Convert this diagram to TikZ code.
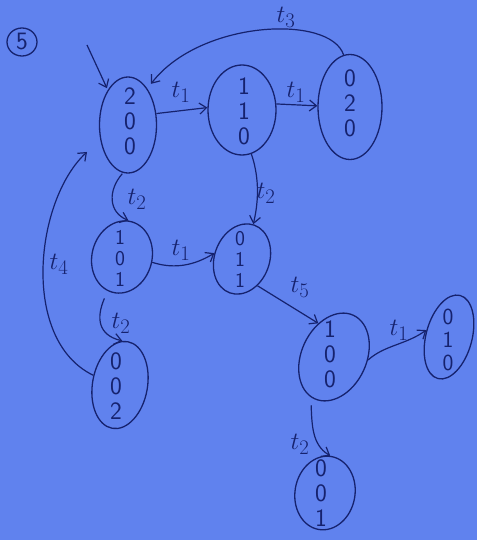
\documentclass[tikz,border=0pt]{standalone}
\usetikzlibrary{shapes.geometric,arrows.meta}
\definecolor{paper}{HTML}{6082EE}
\definecolor{ink}{HTML}{16226E}
\begin{document}
\begin{tikzpicture}[x=1pt,y=-1pt,
  state/.style={draw=ink, line width=1.3pt, ellipse, inner sep=0pt},
  digits/.style={text=ink, font=\sffamily\fontsize{25}{25}\selectfont, align=center, inner sep=0pt},
  lab/.style={text=ink, font=\fontsize{28}{28}\selectfont, inner sep=0pt},
  arc/.style={draw=ink, line width=1.2pt, -{Straight Barb[length=7pt,width=11pt]}}
]
\fill[paper] (0,0) rectangle (477,540);
\useasboundingbox (0,0) rectangle (477,540);

% states
\node[state, minimum width=30pt, minimum height=28pt] (five) at (22,42) {};
\node[digits] (fivet) at (22,42) {5};

\node[state, minimum width=57pt, minimum height=96pt] (A) at (128,125) {};
\node[digits] (At) at (130,121) {2\\0\\0};
\node[state, minimum width=68pt, minimum height=90pt] (B) at (242,110) {};
\node[digits] (Bt) at (244,111) {1\\1\\0};
\node[state, minimum width=64pt, minimum height=105pt] (C) at (350,107) {};
\node[digits] (Ct) at (350,103) {0\\2\\0};
\node[state, minimum width=60pt, minimum height=73pt, rotate=-15] (D) at (122,257) {};
\node[digits, font=\sffamily\fontsize{21}{21}\selectfont] (Dt) at (120,258) {1\\0\\1};
\node[state, minimum width=55pt, minimum height=72pt, rotate=-20] (E) at (242,259) {};
\node[digits, font=\sffamily\fontsize{21}{21}\selectfont] (Et) at (240,259) {0\\1\\1};
\node[state, minimum width=55pt, minimum height=88pt, rotate=-10] (F) at (120,385) {};
\node[digits] (Ft) at (116,386) {0\\0\\2};
\node[state, minimum width=65pt, minimum height=92pt, rotate=-25] (G) at (334,357) {};
\node[digits] (Gt) at (330,354) {1\\0\\0};
\node[state, minimum width=46pt, minimum height=86pt, rotate=-15] (H) at (449,337) {};
\node[digits, font=\sffamily\fontsize{23}{23}\selectfont] (Ht) at (448,340) {0\\1\\0};
\node[state, minimum width=60pt, minimum height=74pt, rotate=-10] (I) at (325,493) {};
\node[digits] (It) at (321,493) {0\\0\\1};

% edges
\coordinate (s) at (87,45);
\draw[arc, shorten >=2pt] (s) -- (A.120);
\draw[arc] (A.22) -- (B.176);
\draw[arc] (B.10) -- (C.178);
\draw[arc, shorten >=6pt] (C.97) .. controls (330,14) and (200,20) .. (A.62);
\draw[arc, shorten <=1pt] (A.264) .. controls (108,190) and (108,212) .. (D.95);
\draw[arc] (B.282) .. controls (262,185) and (256,212) .. (E.92);
\draw[arc] (D.5) .. controls (170,268) and (190,268) .. (E.188);
\draw[arc] (E.-40) -- (G.140);
\draw[arc, shorten <=8pt] (D.262) .. controls (96,318) and (98,335) .. (F.97);
\draw[arc, shorten >=18pt] (F.170) .. controls (20,340) and (35,200) .. (A.208);
\draw[arc] (G.20) .. controls (385,345) and (405,345) .. (H.178);
\draw[arc, shorten <=8pt] (G.265) .. controls (312,425) and (312,445) .. (I.92);

% labels
\node[lab] (l3) at (286,17) {$t_3$};
\node[lab] (l1a) at (181,92) {$t_1$};
\node[lab] (l1b) at (296,92) {$t_1$};
\node[lab] (l2a) at (137,199) {$t_2$};
\node[lab] (l2b) at (266,193) {$t_2$};
\node[lab] (l4) at (59,264) {$t_4$};
\node[lab] (l1c) at (181,250) {$t_1$};
\node[lab] (l5) at (300,287) {$t_5$};
\node[lab] (l2c) at (121,323) {$t_2$};
\node[lab] (l1d) at (399,330) {$t_1$};
\node[lab] (l2d) at (300,444) {$t_2$};
\end{tikzpicture}
\end{document}
